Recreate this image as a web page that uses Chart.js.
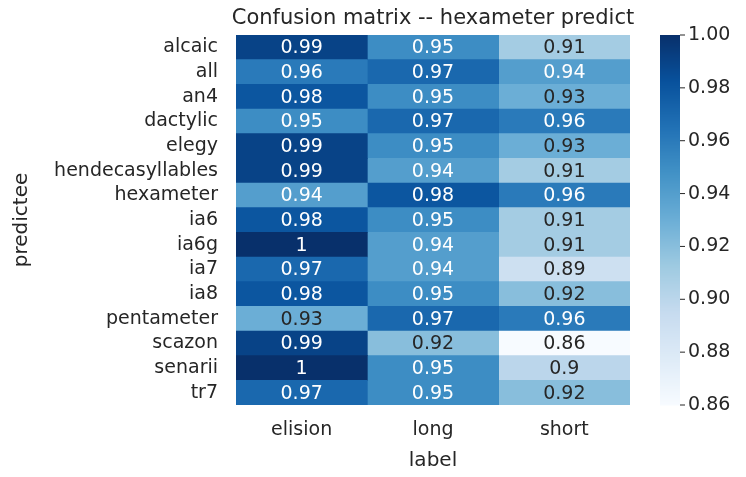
<!DOCTYPE html>
<html><head><meta charset="utf-8">
<script src="https://cdn.jsdelivr.net/npm/chart.js@4"></script>
<style>html,body{margin:0;padding:0;background:#fff}#w{width:746px;height:477px}</style>
</head><body><div id="w"><canvas id="c"></canvas></div>
<script>
const rows = ["alcaic","all","an4","dactylic","elegy","hendecasyllables","hexameter","ia6","ia6g","ia7","ia8","pentameter","scazon","senarii","tr7"];
const cols = ["elision","long","short"];
const elision = [0.99,0.96,0.98,0.95,0.99,0.99,0.94,0.98,1,0.97,0.98,0.93,0.99,1,0.97];
const long    = [0.95,0.97,0.95,0.97,0.95,0.94,0.98,0.95,0.94,0.94,0.95,0.97,0.92,0.95,0.95];
const short   = [0.91,0.94,0.93,0.96,0.93,0.91,0.96,0.91,0.91,0.89,0.92,0.96,0.86,0.9,0.92];
const cbTicks = [0.86,0.88,0.90,0.92,0.94,0.96,0.98,1.00];
const vmin=0.86, vmax=1.0;
const stops=["#f7fbff","#deebf7","#c6dbef","#9ecae1","#6baed6","#4292c6","#2171b5","#08519c","#08306b"].map(h=>[1,3,5].map(i=>parseInt(h.substr(i,2),16)));
function cmap(v){let t=Math.max(0,Math.min(1,(v-vmin)/(vmax-vmin)))*8;let i=Math.min(7,Math.floor(t)),f=t-i;
 const c=stops[i].map((a,k)=>Math.round(a+(stops[i+1][k]-a)*f));return `rgb(${c})`;}
const series=[elision,long,short];
const FONT="'DejaVu Sans'";
const datasets=series.map((s,ci)=>({data:s.map((v,ri)=>({x:[ci,ci+1],y:rows[ri],v})),backgroundColor:s.map(cmap),borderWidth:0,barPercentage:1,categoryPercentage:1,grouped:false}));
const deco={id:'deco',afterDatasetsDraw(ch){const ctx=ch.ctx,a=ch.chartArea,xs=ch.scales.x,ys=ch.scales.y;
 ctx.save();ctx.textAlign='center';ctx.textBaseline='middle';ctx.font=`19px ${FONT}`;
 series.forEach((s,ci)=>s.forEach((v,ri)=>{ctx.fillStyle=v>=0.935?'#fff':'#262626';ctx.fillText(String(v),xs.getPixelForValue(ci+0.5),ys.getPixelForValue(ri)+1);}));
 ctx.fillStyle='#262626';ctx.font=`21px ${FONT}`;ctx.fillText('Confusion matrix -- hexameter predict',(a.left+a.right)/2,19);
 ctx.font=`20px ${FONT}`;ctx.translate(22,(a.top+a.bottom)/2);ctx.rotate(-Math.PI/2);ctx.fillText('predictee',0,0);ctx.restore();
 // colorbar
 const x0=660,w=20,top=a.top,bot=a.bottom;
 for(let y=top;y<bot;y++){ctx.fillStyle=cmap(vmax-(y-top+0.5)/(bot-top)*(vmax-vmin));ctx.fillRect(x0,y,w,1.5);}
 ctx.save();ctx.font=`19px ${FONT}`;ctx.fillStyle='#262626';ctx.textAlign='left';ctx.textBaseline='middle';ctx.strokeStyle='#262626';
 cbTicks.forEach(t=>{const y=bot-(t-vmin)/(vmax-vmin)*(bot-top);ctx.beginPath();ctx.moveTo(x0+w,y);ctx.lineTo(x0+w+5,y);ctx.stroke();ctx.fillText(t.toFixed(2),x0+w+8,y);});
 ctx.restore();}};
new Chart(document.getElementById('c'),{type:'bar',data:{labels:rows,datasets},
 options:{indexAxis:'y',responsive:true,maintainAspectRatio:false,animation:false,
 layout:{padding:{top:35,right:116,left:0,bottom:0}},
 plugins:{legend:{display:false},tooltip:{enabled:false}},
 scales:{x:{type:'linear',min:0,max:3,grid:{display:false},border:{display:false},
   afterBuildTicks(s){s.ticks=[0.5,1.5,2.5].map(v=>({value:v}));},
   ticks:{callback:(v)=>cols[Math.floor(v)],color:'#262626',font:{family:FONT,size:19},padding:6,maxRotation:0},
   title:{display:true,text:'label',color:'#262626',font:{family:FONT,size:20},padding:{top:2}},
   afterFit(s){s.height=72;}},
  y:{type:'category',offset:true,grid:{display:false},border:{display:false},
   ticks:{color:'#262626',font:{family:FONT,size:19},padding:10,autoSkip:false},
   afterFit(s){s.width=236;}}}},
 plugins:[deco]});
</script></body></html>
